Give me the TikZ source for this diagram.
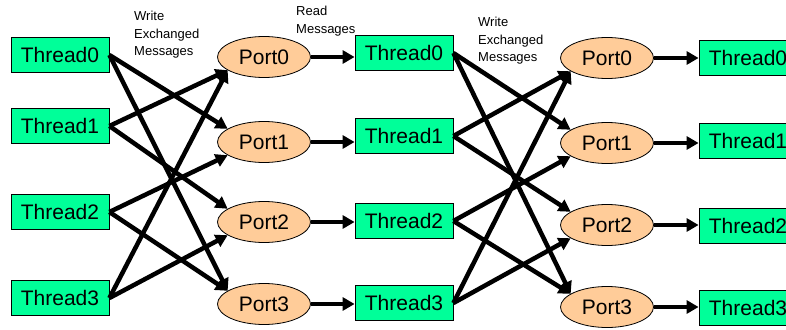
\documentclass[tikz,border=0pt]{standalone}
\usepackage{fontspec}
\setmainfont{Liberation Sans}
\usetikzlibrary{shapes.geometric,arrows.meta}
\definecolor{thrgreen}{RGB}{0,255,153}
\definecolor{portpeach}{RGB}{255,204,153}
\tikzset{
  thr/.style={draw=black, line width=0.8pt, fill=thrgreen, rectangle,
    minimum width=98pt, minimum height=35pt, inner sep=0pt,
    font=\fontsize{21}{24}\selectfont},
  prt/.style={draw=black, line width=0.8pt, fill=portpeach, ellipse,
    minimum width=93pt, minimum height=41pt, inner sep=0pt,
    font=\fontsize{21}{24}\selectfont},
  msg/.style={align=left, inner sep=0pt, anchor=north west,
    font=\fontsize{13}{17.5}\selectfont},
  flow/.style={line width=4.5pt, -{Triangle[length=12pt,width=13pt]}}
}
\begin{document}
\begin{tikzpicture}[x=1pt,y=-1pt]
  \useasboundingbox (0,0) rectangle (786,329);
  \clip (0,0) rectangle (786,329);

  % first thread column
  \node[thr] (a0) at (60,55)  {Thread0};
  \node[thr] (a1) at (60,126) {Thread1};
  \node[thr] (a2) at (60,212) {Thread2};
  \node[thr] (a3) at (60,298) {Thread3};

  % first port column
  \node[prt] (p0) at (264,57)  {Port0};
  \node[prt] (p1) at (264,142) {Port1};
  \node[prt] (p2) at (264,222) {Port2};
  \node[prt] (p3) at (264,304) {Port3};

  % second thread column
  \node[thr] (b0) at (404,53)  {Thread0};
  \node[thr] (b1) at (404,136) {Thread1};
  \node[thr] (b2) at (404,221) {Thread2};
  \node[thr] (b3) at (404,303) {Thread3};

  % second port column
  \node[prt] (q0) at (607,58)  {Port0};
  \node[prt] (q1) at (607,143) {Port1};
  \node[prt] (q2) at (607,225) {Port2};
  \node[prt] (q3) at (607,307) {Port3};

  % third thread column
  \node[thr] (c0) at (748,58)  {Thread0};
  \node[thr] (c1) at (748,141) {Thread1};
  \node[thr] (c2) at (748,226) {Thread2};
  \node[thr] (c3) at (748,308) {Thread3};

  % captions
  \node[msg] (w1) at (134,11) {Write\\Exchanged\\Messages};
  \node[msg] (rd) at (296,6)  {Read\\Messages};
  \node[msg] (w2) at (478,17) {Write\\Exchanged\\Messages};

  % exchange: thread i writes to port (i xor 1) and port (3-i);
  % arrows from above land upper-left on the port, from below lower-left
  \foreach \t/\p/\side in {0/1/160,0/3/160,1/0/200,1/2/160,
                           2/3/160,2/1/200,3/2/200,3/0/200}{
    \draw[flow] (a\t.east) -- (p\p.\side);
    \draw[flow] (b\t.east) -- (q\p.\side);
  }

  % read messages from the ports
  \foreach \i in {0,1,2,3}{
    \draw[flow] (p\i.east) -- (p\i.east -| b\i.west);
    \draw[flow] (q\i.east) -- (q\i.east -| c\i.west);
  }
\end{tikzpicture}
\end{document}
